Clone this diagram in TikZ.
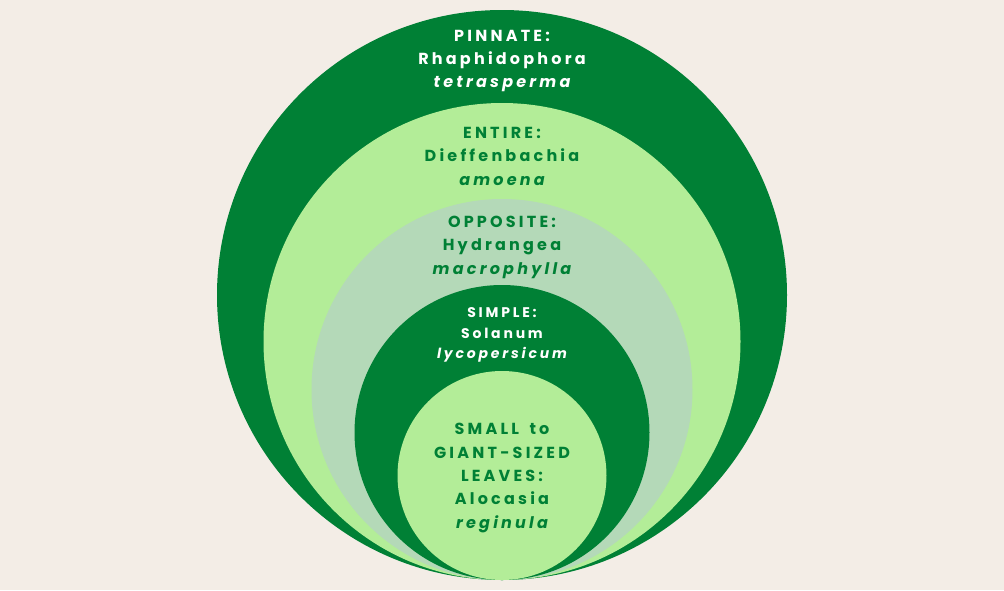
\documentclass[tikz,border=0pt]{standalone}
\usepackage{fontspec}
\newfontfamily\leaffont[LetterSpace=20, WordSpace=1.6]{Poppins}
\definecolor{paper}{RGB}{243,237,230}
\definecolor{darkleaf}{RGB}{0,128,53}
\definecolor{lightleaf}{RGB}{179,237,152}
\definecolor{mistleaf}{RGB}{180,217,184}
\begin{document}
\begin{tikzpicture}[
x = 0.75pt,
y = -0.75pt,
ring/.style = {circle, inner sep=0pt, minimum size=#1*1.5pt},
leaftext/.style = {align=center, inner sep=0pt, font=\leaffont\bfseries\fontsize{12}{17.6}\selectfont}
]
	\fill[paper] (0,0) rectangle (1004,590);
	% nested circles, all touching at the bottom
	\node[ring=285, fill=darkleaf] (pinnate) at (502,295) {};
	\node[ring=238.5, fill=lightleaf] (entire) at (502,341.5) {};
	\node[ring=190.5, fill=mistleaf] (opposite) at (502,389.5) {};
	\node[ring=147.5, fill=darkleaf] (simple) at (502,432.5) {};
	\node[ring=104.5, fill=lightleaf] (giant) at (502,475.5) {};
	% labels
	\node[leaftext, text=white] (pinnatetext) at (502,61) {PINNATE:\\ Rhaphidophora\\ {\itshape tetrasperma}};
	\node[leaftext, text=darkleaf] (entiretext) at (502,156) {ENTIRE:\\ Dieffenbachia\\ {\itshape amoena}};
	\node[leaftext, text=darkleaf] (oppositetext) at (502,247) {OPPOSITE:\\ Hydrangea\\ {\itshape macrophylla}};
	\node[leaftext, text=white, font=\leaffont\bfseries\fontsize{10.5}{15.4}\selectfont] (simpletext) at (502,335) {SIMPLE:\\ Solanum\\ {\itshape lycopersicum}};
	\node[leaftext, text=darkleaf] (gianttext) at (502,478) {SMALL to\\ GIANT-SIZED\\ LEAVES:\\ Alocasia\\ {\itshape reginula}};
\end{tikzpicture}
\end{document}
